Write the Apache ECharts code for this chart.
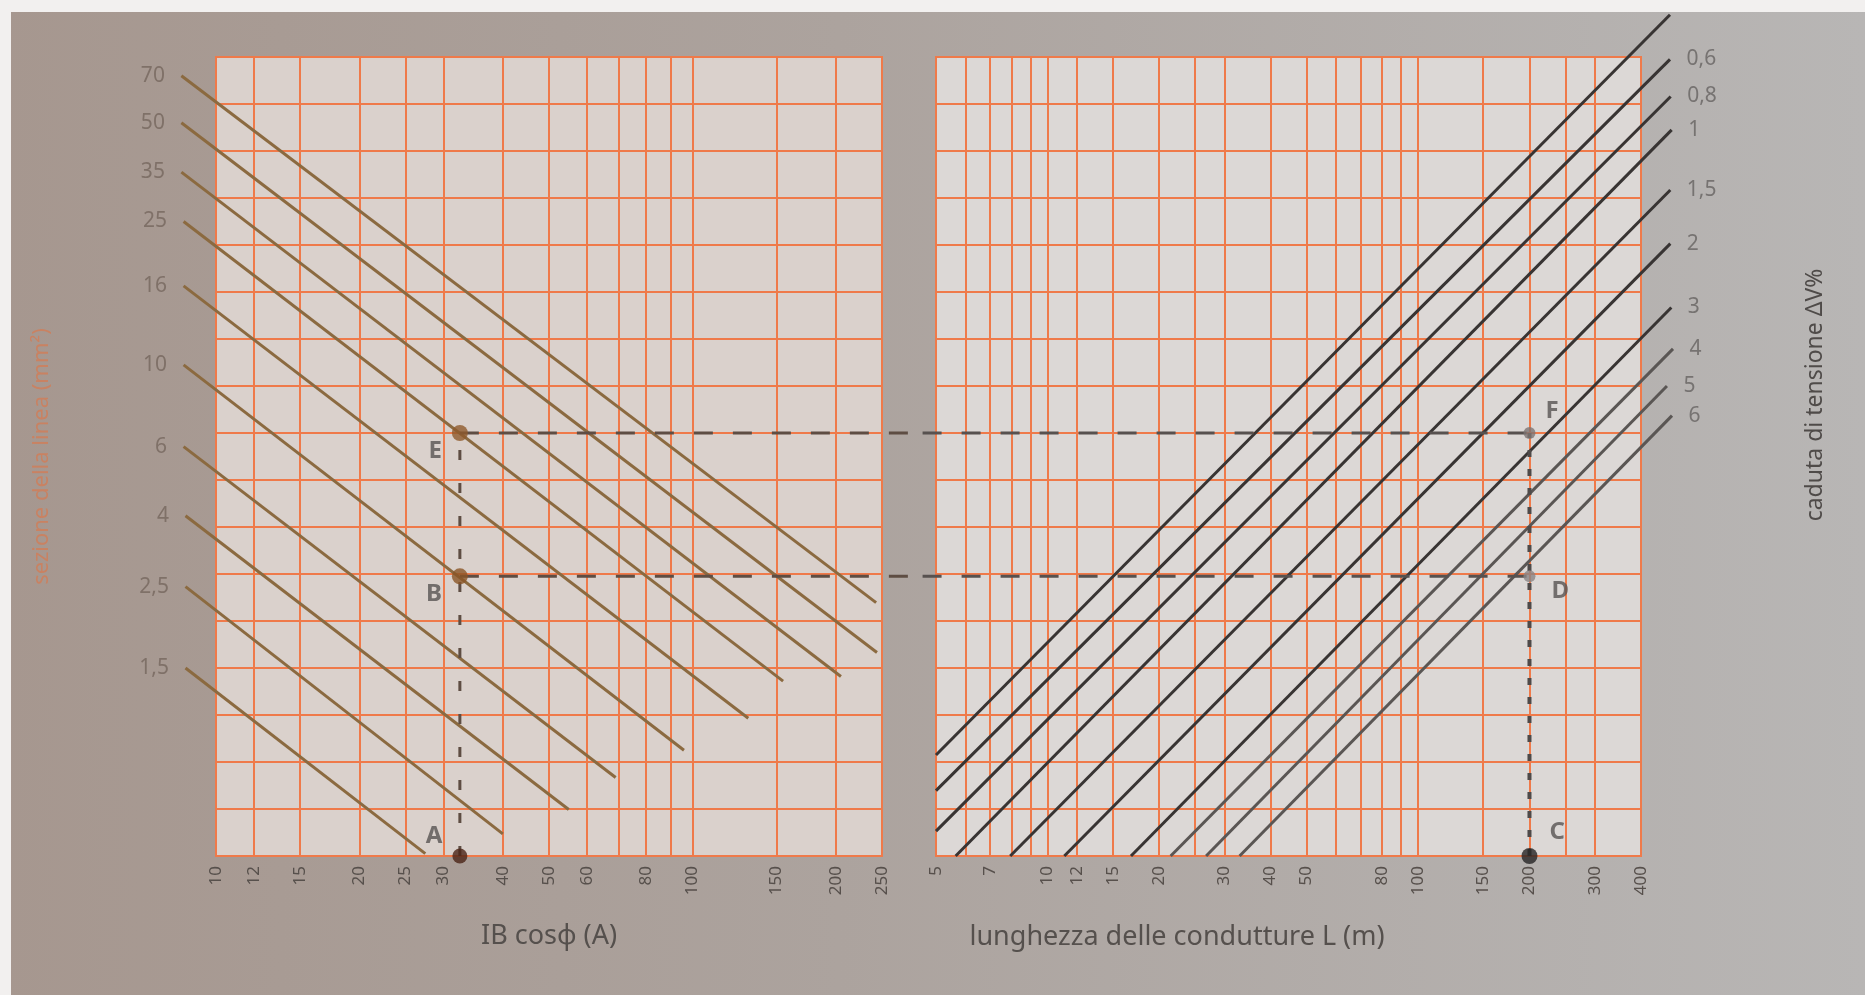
<!DOCTYPE html>
<html>
<head>
<meta charset="utf-8">
<title>Nomogramma caduta di tensione</title>
<script src="https://cdn.jsdelivr.net/npm/echarts@6/dist/echarts.min.js"></script>
<style>
  html, body { margin: 0; padding: 0; }
  #chart {
    width: 1865px;
    height: 995px;
    background: linear-gradient(90deg, #a6978f 0%, #aca39e 45%, #b8b6b5 100%);
  }
</style>
</head>
<body>
<div id="chart"></div>
<script>
// sezione della linea (mm²): ogni retta va da [IB cosφ, riga] a [IB cosφ, riga]
const sezioni = ['70', '50', '35', '25', '16', '10', '6', '4', '2,5', '1,5'];
const sezioniInizio = [[8.46, 16.6], [8.46, 15.6], [8.46, 14.55], [8.55, 13.5], [8.55, 12.13],
  [8.55, 10.45], [8.55, 8.71], [8.63, 7.24], [8.63, 5.73], [8.63, 4.0]];
const sezioniFine = [[243, 5.39], [244, 4.33], [205, 3.82], [155, 3.72], [131, 2.93],
  [96, 2.25], [69, 1.67], [55, 0.99], [40, 0.47], [27.5, 0.05]];

// caduta di tensione ΔV%: la prima retta esce dalla foto, etichetta non leggibile
const cadute = ['', '0,6', '0,8', '1', '1,5', '2', '3', '4', '5', '6'];
const caduteInizio = [[5, 2.15], [5, 1.39], [5, 0.53], [5.65, 0], [7.93, 0],
  [11.1, 0], [16.8, 0], [21.5, 0], [26.8, 0], [33, 0]];
const caduteFine = [[479, 17.9], [479, 16.95], [481, 16.16], [484, 15.45], [480, 14.17],
  [480, 13.03], [483, 11.67], [488, 10.79], [470, 10.0], [485, 9.37]];

// assi
const ibTicks = [10, 12, 15, 20, 25, 30, 40, 50, 60, 80, 100, 150, 200, 250];
const ibGriglia = [12, 15, 20, 25, 30, 40, 50, 60, 70, 80, 90, 100, 150, 200];
const lTicks = [5, 7, 10, 12, 15, 20, 30, 40, 50, 80, 100, 150, 200, 300, 400];
const lGriglia = [6, 7, 8, 9, 10, 12, 15, 20, 25, 30, 40, 50, 60, 70, 80, 90, 100, 150, 200, 250, 300];
const righe = 17;

// esempio di lettura: A -> B/E a sinistra, C -> D/F a destra
const puntiIB = ['A', 'B', 'E'];
const puntiIBVal = [[32.5, 0], [32.5, 5.95], [32.5, 9]];
const puntiL = ['C', 'D', 'F'];
const puntiLVal = [[200, 0], [200, 5.95], [200, 9]];
// estremi dei tratteggi nello spazio fra i due grafici
const ibOltre = 300;
const lPrima = 4.6;

const ARANCIO = '#ef7a4a';
const FONT = 'Noto Sans';

const chart = echarts.init(document.getElementById('chart'));

function assex(gridIndex, min, max, ticks, extra) {
  return Object.assign({
    type: 'log',
    logBase: 10,
    gridIndex: gridIndex,
    min: min,
    max: max,
    axisLine: { show: false },
    axisTick: { show: false },
    splitLine: { show: false },
    axisLabel: {
      customValues: ticks,
      rotate: 90,
      margin: 10,
      fontSize: 17,
      color: '#57504c',
      fontFamily: FONT,
      formatter: (v) => String(Math.round(v))
    }
  }, extra);
}

function assey(gridIndex, extra) {
  return Object.assign({
    type: 'value',
    gridIndex: gridIndex,
    min: 0,
    max: righe,
    interval: 1,
    axisLine: { show: false },
    axisTick: { show: false },
    axisLabel: { show: false },
    splitLine: { show: true, lineStyle: { color: ARANCIO, width: 2 } }
  }, extra);
}

function griglia(valori) {
  return {
    silent: true,
    symbol: 'none',
    z: 1,
    label: { show: false },
    lineStyle: { color: ARANCIO, width: 2, type: 'solid' },
    data: valori.map((v) => ({ xAxis: v }))
  };
}

// segmenti disegnati con le coordinate dell'asse, anche fuori dalla griglia
function segmenti(idx, inizi, fini, stile) {
  return {
    type: 'custom',
    xAxisIndex: idx,
    yAxisIndex: idx,
    clip: false,
    silent: true,
    z: 4,
    data: inizi.map((p, i) => [p[0], p[1], fini[i][0], fini[i][1]]),
    renderItem: (params, api) => {
      const a = api.coord([api.value(0), api.value(1)]);
      const b = api.coord([api.value(2), api.value(3)]);
      return {
        type: 'line',
        shape: { x1: a[0], y1: a[1], x2: b[0], y2: b[1] },
        style: Object.assign({ fill: null, lineCap: 'butt' }, stile(params.dataIndex))
      };
    }
  };
}

function etichette(idx, punti, nomi, posizione, colore) {
  return {
    type: 'scatter',
    xAxisIndex: idx,
    yAxisIndex: idx,
    clip: false,
    silent: true,
    symbolSize: 1,
    itemStyle: { color: 'transparent' },
    data: punti.map((p, i) => ({ value: p, name: nomi[i] })),
    label: {
      show: true,
      position: posizione,
      distance: 16,
      formatter: '{b}',
      fontSize: 21,
      fontFamily: FONT,
      color: colore
    }
  };
}

// posizione delle lettere rispetto ai punti
const stileLettere = {
  A: { position: 'left', offset: [0, -20] },
  B: { position: 'left', offset: [0, 18] },
  E: { position: 'left', offset: [0, 18] },
  C: { position: 'right', offset: [2, -24] },
  D: { position: 'right', offset: [6, 15] },
  F: { position: 'right', offset: [0, -22] }
};

function punti(idx, nomi, valori, colori, dimensioni) {
  return {
    type: 'scatter',
    xAxisIndex: idx,
    yAxisIndex: idx,
    clip: false,
    silent: true,
    z: 6,
    data: valori.map((v, i) => ({
      value: v,
      name: nomi[i],
      symbolSize: dimensioni[i],
      itemStyle: { color: colori[i] },
      label: Object.assign({
        show: true,
        formatter: '{b}',
        distance: 10,
        fontSize: 24,
        fontWeight: 'bold',
        fontFamily: FONT,
        color: '#585453'
      }, stileLettere[nomi[i]])
    }))
  };
}

const [pA, pB, pE] = puntiIBVal;
const [pC, pD, pF] = puntiLVal;

const etichetteSezioni = etichette(0, sezioniInizio, sezioni, 'left', '#76665e');
etichetteSezioni.markLine = griglia(ibGriglia);
const etichetteCadute = etichette(1, caduteFine.slice(1), cadute.slice(1), 'right', '#666362');
etichetteCadute.markLine = griglia(lGriglia);

const tratteggioSx = { stroke: '#5e4d43', lineWidth: 3 };
const tratteggioDx = { stroke: '#57514f', lineWidth: 3 };

const series = [
  etichetteSezioni,
  etichetteCadute,
  segmenti(0, sezioniInizio, sezioniFine, () => ({ stroke: '#8b6a40', lineWidth: 3 })),
  segmenti(1, caduteInizio, caduteFine, (i) => ({ stroke: i >= 7 ? '#5a5654' : '#383433', lineWidth: 3 })),
  // tratteggi della lettura
  segmenti(0, [pA], [pE], () => Object.assign({ lineDash: [10, 23] }, tratteggioSx)),
  segmenti(0, [pE, pB], [[ibOltre, pE[1]], [ibOltre, pB[1]]], () => Object.assign({ lineDash: [19, 20] }, tratteggioSx)),
  segmenti(1, [[lPrima, pF[1]], [lPrima, pD[1]]], [pF, pD], () => Object.assign({ lineDash: [19, 20] }, tratteggioDx)),
  segmenti(1, [pC], [pF], () => ({ stroke: '#4e4a49', lineWidth: 4, lineDash: [7, 12] })),
  punti(0, puntiIB, puntiIBVal, ['#4b2417', '#8a5526', '#8f5a2c'], [15, 16, 16]),
  punti(1, puntiL, puntiLVal, ['#262424', '#8a8584', '#7d7473'], [16, 12, 12])
];

const option = {
  animation: false,
  textStyle: { fontFamily: FONT },
  grid: [
    { left: 216, top: 57, width: 666, height: 799, show: true, backgroundColor: '#dad1cc', borderColor: ARANCIO, borderWidth: 2 },
    { left: 936, top: 57, width: 705, height: 799, show: true, backgroundColor: '#dcd8d6', borderColor: ARANCIO, borderWidth: 2 }
  ],
  xAxis: [
    assex(0, 10, 250, ibTicks, {
      name: 'IB cosφ (A)',
      nameLocation: 'middle',
      nameGap: 67,
      nameTextStyle: { fontSize: 27, color: '#55504d', fontFamily: FONT }
    }),
    assex(1, 5, 400, lTicks, {})
  ],
  yAxis: [
    assey(0, {
      name: 'sezione della linea (mm²)',
      nameLocation: 'middle',
      nameGap: 163,
      nameTextStyle: { fontSize: 22, color: '#c98262', fontFamily: FONT }
    }),
    assey(1, {})
  ],
  graphic: [
    { type: 'rect', left: 0, top: 0, z: 100, shape: { width: 1865, height: 12 }, style: { fill: '#f2f0ef' } },
    { type: 'rect', left: 0, top: 0, z: 100, shape: { width: 11, height: 995 }, style: { fill: '#f2f0ef' } },
    {
      type: 'text', x: 1177, y: 937, z: 10,
      style: { text: 'lunghezza delle condutture L (m)', fill: '#55504d', fontSize: 27, fontFamily: FONT, align: 'center', verticalAlign: 'middle', textAlign: 'center', textVerticalAlign: 'middle' }
    },
    {
      type: 'text', x: 1815, y: 395, z: 10, rotation: Math.PI / 2,
      style: { text: 'caduta di tensione ΔV%', fill: '#4f4b49', fontSize: 23, fontFamily: FONT, align: 'center', verticalAlign: 'middle', textAlign: 'center', textVerticalAlign: 'middle' }
    }
  ],
  series: series
};

chart.setOption(option);
</script>
</body>
</html>
